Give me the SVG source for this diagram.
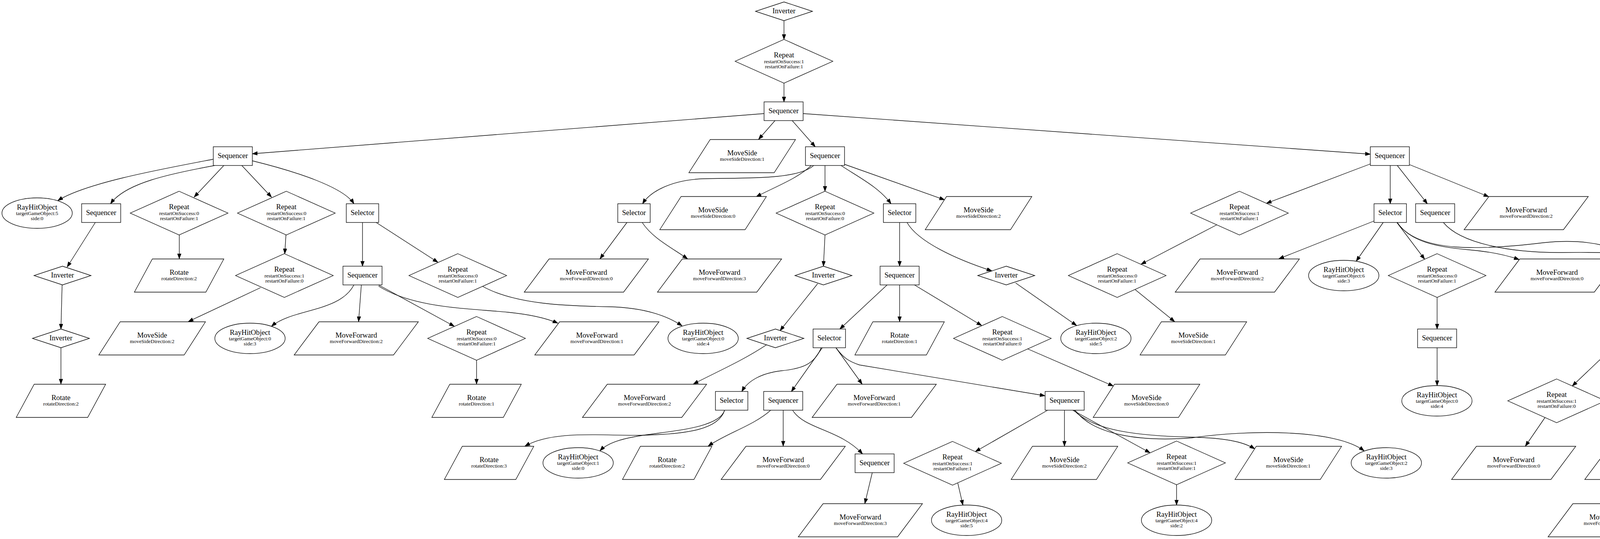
<svg xmlns="http://www.w3.org/2000/svg" width="6037" height="1381" viewBox="0 0 6037 1381">
<style>
.n use{fill:#fff;stroke:#000;stroke-width:1.33}
text{font-family:"Liberation Serif","Times New Roman",serif;text-anchor:middle;fill:#000}
.t{font-size:18.67px}
.s{font-size:13.33px}
.e path{fill:none;stroke:#000;stroke-width:1.33;marker-end:url(#a)}
</style>
<defs>
<marker id="a" markerWidth="14" markerHeight="10" refX="13" refY="4.7" orient="auto" markerUnits="userSpaceOnUse"><path d="M0,0 L13,4.7 L0,9.4 z" fill="#000" stroke="#000" stroke-width="1"/></marker>
<rect id="seq" x="-50" y="-24" width="100" height="48"/>
<rect id="sel" x="-41.5" y="-24" width="83" height="48"/>
<polygon id="rep" points="0,-56 125,0 0,56 -125,0"/>
<polygon id="inv" points="0,-24 73,0 0,24 -73,0"/>
<ellipse id="ray" cx="0" cy="0" rx="90" ry="39"/>
<polygon id="rot" points="-68.5,-42.5 114.5,-42.5 68.5,42.5 -114.5,42.5"/>
<polygon id="ms" points="-81.9,-42.5 136.5,-42.5 81.9,42.5 -136.5,42.5"/>
<polygon id="mf" points="-95.4,-42.5 159,-42.5 95.4,42.5 -159,42.5"/>
</defs>
<rect width="6037" height="1381" fill="#fff"/>
<g class="e" id="edges">
<path d="M2007,53 L2007,101"/>
<path d="M2007,213 L2007,261"/>
<path d="M1956,291 L646,394"/>
<path d="M1984,309 L1942,357"/>
<path d="M2028,309 L2087,376"/>
<path d="M2056,291 L3508,395"/>
<path d="M546,408 C420,432 220,468 148,514"/>
<path d="M550,424 C430,446 320,470 283,522"/>
<path d="M573,424 L497,505"/>
<path d="M619,424 L695,505"/>
<path d="M646,412 C760,440 880,480 906,522"/>
<path d="M244,570 L172,684"/>
<path d="M159,730 L156,843"/>
<path d="M156,891 L156,984"/>
<path d="M459,602 L459,663"/>
<path d="M732,602 L729,650"/>
<path d="M667,737 L482,824"/>
<path d="M928,570 L928,682"/>
<path d="M963,570 L1121,672"/>
<path d="M906,730 C870,800 750,790 695,836"/>
<path d="M925,730 L918,824"/>
<path d="M969,730 L1163,836"/>
<path d="M969,733 C1060,790 1200,790 1300,800 C1370,807 1405,818 1428,828"/>
<path d="M1220,923 L1220,984"/>
<path d="M1236,734 C1320,780 1450,784 1560,786 C1650,788 1710,810 1746,835"/>
<path d="M2083,424 C2040,462 1900,455 1800,458 C1720,461 1665,490 1645,522"/>
<path d="M2077,424 C2040,458 1990,476 1936,504"/>
<path d="M2112,424 L2112,490"/>
<path d="M2153,424 C2200,455 2250,480 2281,522"/>
<path d="M2162,421 L2418,512"/>
<path d="M1605,570 L1536,663"/>
<path d="M1644,570 C1670,610 1720,635 1760,663"/>
<path d="M2112,602 L2108,682"/>
<path d="M2093,727 L1997,847"/>
<path d="M1963,883 C1900,925 1830,955 1775,984"/>
<path d="M2303,570 L2303,682"/>
<path d="M2322,570 C2350,620 2450,665 2539,694"/>
<path d="M2600,725 L2756,834"/>
<path d="M2271,730 L2150,843"/>
<path d="M2303,730 L2303,824"/>
<path d="M2341,730 L2513,834"/>
<path d="M2631,894 L2850,989"/>
<path d="M2102,891 C2085,935 2050,945 2000,950 C1950,956 1915,975 1899,1003"/>
<path d="M2105,891 L2026,1003"/>
<path d="M2140,891 L2207,984"/>
<path d="M2140,891 C2158,915 2170,925 2200,935 L2675,1014"/>
<path d="M1855,1051 C1840,1100 1760,1112 1650,1115 C1550,1118 1420,1100 1344,1143"/>
<path d="M1855,1051 C1840,1100 1700,1105 1630,1118 C1590,1125 1555,1135 1536,1155"/>
<path d="M1973,1051 C1930,1090 1860,1110 1813,1143"/>
<path d="M2005,1051 L2005,1143"/>
<path d="M2029,1051 C2060,1100 2150,1100 2208,1163"/>
<path d="M2233,1211 L2214,1290"/>
<path d="M2682,1051 L2497,1157"/>
<path d="M2725,1051 L2725,1143"/>
<path d="M2746,1051 L2944,1160"/>
<path d="M2749,1051 C2800,1105 2920,1117 3050,1120 C3130,1122 3180,1130 3212,1150"/>
<path d="M2752,1051 C2800,1115 2920,1132 3050,1122 C3200,1100 3420,1100 3492,1155"/>
<path d="M2452,1238 L2465,1294"/>
<path d="M3012,1242 L3012,1294"/>
<path d="M3508,420 L3242,521"/>
<path d="M3559,424 L3559,522"/>
<path d="M3577,424 L3654,522"/>
<path d="M3609,422 L3811,504"/>
<path d="M3115,576 L2921,677"/>
<path d="M2906,742 L3007,824"/>
<path d="M3518,566 L3274,663"/>
<path d="M3541,570 L3472,669"/>
<path d="M3576,570 L3647,664"/>
<path d="M3577,570 C3610,620 3680,633 3760,640 C3820,645 3860,655 3889,665"/>
<path d="M3577,570 C3630,650 3800,640 3950,622 C4060,610 4160,630 4198,682"/>
<path d="M3695,570 C3740,625 3870,648 4000,647 C4150,645 4300,650 4501,694"/>
<path d="M3679,762 L3679,843"/>
<path d="M3679,891 L3679,988"/>
<path d="M4209,730 L4165,843"/>
<path d="M4128,891 L4025,989"/>
<path d="M3955,1070 L3905,1143"/>
<path d="M4501,730 C4450,770 4370,800 4336,843"/>
<path d="M4543,730 L4543,824"/>
<path d="M4584,730 L4791,838"/>
<path d="M4584,716 C4750,745 4950,790 5044,829"/>
<path d="M4309,891 L4309,1003"/>
<path d="M4896,902 L5030,1003"/>
<path d="M4295,1051 L4242,1143"/>
<path d="M4348,1051 L4488,1143"/>
<path d="M5034,1051 L4915,1152"/>
<path d="M5065,1051 L5065,1163"/>
<path d="M5107,1051 L5307,1163"/>
<path d="M5107,1040 L5488,1148"/>
<path d="M4800,1218 C4720,1260 4620,1266 4480,1272 C4380,1276 4320,1282 4283,1291"/>
<path d="M5043,1211 C5010,1255 4900,1268 4780,1278 C4700,1283 4660,1285 4626,1291"/>
<path d="M5043,1211 C5010,1250 4960,1265 4900,1278 C4860,1285 4830,1292 4808,1308"/>
<path d="M5040,1211 L4978,1297"/>
<path d="M5086,1211 L5149,1290"/>
<path d="M5116,1207 L5370,1309"/>
<path d="M5376,1211 C5400,1250 5500,1270 5575,1307"/>
<path d="M5376,1211 C5420,1275 5560,1276 5660,1278 C5720,1280 5770,1290 5806,1300"/>
</g>
<g class="n">
<g id="n1"><use href="#inv" x="2007" y="29"/><text class="t" x="2007" y="34">Inverter</text></g>
<g id="n2"><use href="#rep" x="2007" y="157"/><text class="t" x="2007" y="147">Repeat</text><text class="s" x="2007" y="162">restartOnSuccess:1</text><text class="s" x="2007" y="175">restartOnFailure:1</text></g>
<g id="n3"><use href="#seq" x="2006" y="285"/><text class="t" x="2006" y="290">Sequencer</text></g>
<g id="n4"><use href="#seq" x="596" y="400"/><text class="t" x="596" y="405">Sequencer</text></g>
<g id="n5"><use href="#ms" x="1900" y="400"/><text class="t" x="1900" y="398">MoveSide</text><text class="s" x="1900" y="412">moveSideDirection:1</text></g>
<g id="n6"><use href="#seq" x="2112" y="400"/><text class="t" x="2112" y="405">Sequencer</text></g>
<g id="n7"><use href="#seq" x="3558" y="400"/><text class="t" x="3558" y="405">Sequencer</text></g>
<g id="n8"><use href="#ray" x="95" y="546"/><text class="t" x="95" y="537">RayHitObject</text><text class="s" x="95" y="551">targetGameObject:5</text><text class="s" x="95" y="564">side:0</text></g>
<g id="n9"><use href="#seq" x="259" y="546"/><text class="t" x="259" y="551">Sequencer</text></g>
<g id="n10"><use href="#rep" x="458.5" y="546"/><text class="t" x="458.5" y="536">Repeat</text><text class="s" x="458.5" y="551">restartOnSuccess:0</text><text class="s" x="458.5" y="564">restartOnFailure:1</text></g>
<g id="n11"><use href="#rep" x="733" y="546"/><text class="t" x="733" y="536">Repeat</text><text class="s" x="733" y="551">restartOnSuccess:0</text><text class="s" x="733" y="564">restartOnFailure:1</text></g>
<g id="n12"><use href="#sel" x="928" y="546"/><text class="t" x="928" y="551">Selector</text></g>
<g id="n13"><use href="#sel" x="1623" y="546"/><text class="t" x="1623" y="551">Selector</text></g>
<g id="n14"><use href="#ms" x="1825.5" y="546"/><text class="t" x="1825.5" y="544">MoveSide</text><text class="s" x="1825.5" y="558">moveSideDirection:0</text></g>
<g id="n15"><use href="#rep" x="2112" y="546"/><text class="t" x="2112" y="536">Repeat</text><text class="s" x="2112" y="551">restartOnSuccess:0</text><text class="s" x="2112" y="564">restartOnFailure:0</text></g>
<g id="n16"><use href="#sel" x="2303" y="546"/><text class="t" x="2303" y="551">Selector</text></g>
<g id="n17"><use href="#ms" x="2505" y="546"/><text class="t" x="2505" y="544">MoveSide</text><text class="s" x="2505" y="558">moveSideDirection:2</text></g>
<g id="n18"><use href="#rep" x="3173" y="546"/><text class="t" x="3173" y="536">Repeat</text><text class="s" x="3173" y="551">restartOnSuccess:1</text><text class="s" x="3173" y="564">restartOnFailure:1</text></g>
<g id="n19"><use href="#sel" x="3559" y="546"/><text class="t" x="3559" y="551">Selector</text></g>
<g id="n20"><use href="#seq" x="3674" y="546"/><text class="t" x="3674" y="551">Sequencer</text></g>
<g id="n21"><use href="#mf" x="3907" y="546"/><text class="t" x="3907" y="544">MoveForward</text><text class="s" x="3907" y="558">moveForwardDirection:2</text></g>
<g id="n22"><use href="#inv" x="160" y="706"/><text class="t" x="160" y="711">Inverter</text></g>
<g id="n23"><use href="#rot" x="458.5" y="706"/><text class="t" x="458.5" y="704">Rotate</text><text class="s" x="458.5" y="718">rotateDirection:2</text></g>
<g id="n24"><use href="#rep" x="728" y="706"/><text class="t" x="728" y="696">Repeat</text><text class="s" x="728" y="711">restartOnSuccess:1</text><text class="s" x="728" y="724">restartOnFailure:0</text></g>
<g id="n25"><use href="#seq" x="928" y="706"/><text class="t" x="928" y="711">Sequencer</text></g>
<g id="n26"><use href="#rep" x="1172" y="706"/><text class="t" x="1172" y="696">Repeat</text><text class="s" x="1172" y="711">restartOnSuccess:0</text><text class="s" x="1172" y="724">restartOnFailure:1</text></g>
<g id="n27"><use href="#mf" x="1501" y="706"/><text class="t" x="1501" y="704">MoveForward</text><text class="s" x="1501" y="718">moveForwardDirection:0</text></g>
<g id="n28"><use href="#mf" x="1842" y="706"/><text class="t" x="1842" y="704">MoveForward</text><text class="s" x="1842" y="718">moveForwardDirection:3</text></g>
<g id="n29"><use href="#inv" x="2108" y="706"/><text class="t" x="2108" y="711">Inverter</text></g>
<g id="n30"><use href="#seq" x="2303" y="706"/><text class="t" x="2303" y="711">Sequencer</text></g>
<g id="n31"><use href="#inv" x="2576" y="706"/><text class="t" x="2576" y="711">Inverter</text></g>
<g id="n32"><use href="#rep" x="2860" y="706"/><text class="t" x="2860" y="696">Repeat</text><text class="s" x="2860" y="711">restartOnSuccess:0</text><text class="s" x="2860" y="724">restartOnFailure:1</text></g>
<g id="n33"><use href="#mf" x="3167.5" y="706"/><text class="t" x="3167.5" y="704">MoveForward</text><text class="s" x="3167.5" y="718">moveForwardDirection:2</text></g>
<g id="n34"><use href="#ray" x="3440" y="706"/><text class="t" x="3440" y="697">RayHitObject</text><text class="s" x="3440" y="711">targetGameObject:6</text><text class="s" x="3440" y="724">side:3</text></g>
<g id="n35"><use href="#rep" x="3679" y="706"/><text class="t" x="3679" y="696">Repeat</text><text class="s" x="3679" y="711">restartOnSuccess:0</text><text class="s" x="3679" y="724">restartOnFailure:1</text></g>
<g id="n36"><use href="#mf" x="3986" y="706"/><text class="t" x="3986" y="704">MoveForward</text><text class="s" x="3986" y="718">moveForwardDirection:0</text></g>
<g id="n37"><use href="#seq" x="4220" y="706"/><text class="t" x="4220" y="711">Sequencer</text></g>
<g id="n38"><use href="#sel" x="4543" y="706"/><text class="t" x="4543" y="711">Selector</text></g>
<g id="n39"><use href="#inv" x="156" y="867"/><text class="t" x="156" y="872">Inverter</text></g>
<g id="n40"><use href="#ms" x="389.5" y="867"/><text class="t" x="389.5" y="865">MoveSide</text><text class="s" x="389.5" y="879">moveSideDirection:2</text></g>
<g id="n41"><use href="#ray" x="640" y="867"/><text class="t" x="640" y="858">RayHitObject</text><text class="s" x="640" y="872">targetGameObject:0</text><text class="s" x="640" y="885">side:3</text></g>
<g id="n42"><use href="#mf" x="912" y="867"/><text class="t" x="912" y="865">MoveForward</text><text class="s" x="912" y="879">moveForwardDirection:2</text></g>
<g id="n43"><use href="#rep" x="1220" y="867"/><text class="t" x="1220" y="857">Repeat</text><text class="s" x="1220" y="872">restartOnSuccess:0</text><text class="s" x="1220" y="885">restartOnFailure:1</text></g>
<g id="n44"><use href="#mf" x="1528" y="867"/><text class="t" x="1528" y="865">MoveForward</text><text class="s" x="1528" y="879">moveForwardDirection:1</text></g>
<g id="n45"><use href="#ray" x="1800" y="867"/><text class="t" x="1800" y="858">RayHitObject</text><text class="s" x="1800" y="872">targetGameObject:0</text><text class="s" x="1800" y="885">side:4</text></g>
<g id="n46"><use href="#inv" x="1985" y="867"/><text class="t" x="1985" y="872">Inverter</text></g>
<g id="n47"><use href="#sel" x="2123" y="867"/><text class="t" x="2123" y="872">Selector</text></g>
<g id="n48"><use href="#rot" x="2303" y="867"/><text class="t" x="2303" y="865">Rotate</text><text class="s" x="2303" y="879">rotateDirection:1</text></g>
<g id="n49"><use href="#rep" x="2566" y="867"/><text class="t" x="2566" y="857">Repeat</text><text class="s" x="2566" y="872">restartOnSuccess:1</text><text class="s" x="2566" y="885">restartOnFailure:0</text></g>
<g id="n50"><use href="#ray" x="2805.5" y="867"/><text class="t" x="2805.5" y="858">RayHitObject</text><text class="s" x="2805.5" y="872">targetGameObject:2</text><text class="s" x="2805.5" y="885">side:5</text></g>
<g id="n51"><use href="#ms" x="3055" y="867"/><text class="t" x="3055" y="865">MoveSide</text><text class="s" x="3055" y="879">moveSideDirection:1</text></g>
<g id="n52"><use href="#seq" x="3679" y="867"/><text class="t" x="3679" y="872">Sequencer</text></g>
<g id="n53"><use href="#seq" x="4153" y="867"/><text class="t" x="4153" y="872">Sequencer</text></g>
<g id="n54"><use href="#seq" x="4309" y="867"/><text class="t" x="4309" y="872">Sequencer</text></g>
<g id="n55"><use href="#mf" x="4542" y="867"/><text class="t" x="4542" y="865">MoveForward</text><text class="s" x="4542" y="879">moveForwardDirection:3</text></g>
<g id="n56"><use href="#rep" x="4851" y="867"/><text class="t" x="4851" y="857">Repeat</text><text class="s" x="4851" y="872">restartOnSuccess:0</text><text class="s" x="4851" y="885">restartOnFailure:1</text></g>
<g id="n57"><use href="#rot" x="5115" y="867"/><text class="t" x="5115" y="865">Rotate</text><text class="s" x="5115" y="879">rotateDirection:0</text></g>
<g id="n58"><use href="#rot" x="156" y="1027"/><text class="t" x="156" y="1025">Rotate</text><text class="s" x="156" y="1039">rotateDirection:2</text></g>
<g id="n59"><use href="#rot" x="1220" y="1027"/><text class="t" x="1220" y="1025">Rotate</text><text class="s" x="1220" y="1039">rotateDirection:1</text></g>
<g id="n60"><use href="#mf" x="1650" y="1027"/><text class="t" x="1650" y="1025">MoveForward</text><text class="s" x="1650" y="1039">moveForwardDirection:2</text></g>
<g id="n61"><use href="#sel" x="1873" y="1027"/><text class="t" x="1873" y="1032">Selector</text></g>
<g id="n62"><use href="#seq" x="2005" y="1027"/><text class="t" x="2005" y="1032">Sequencer</text></g>
<g id="n63"><use href="#mf" x="2238" y="1027"/><text class="t" x="2238" y="1025">MoveForward</text><text class="s" x="2238" y="1039">moveForwardDirection:1</text></g>
<g id="n64"><use href="#seq" x="2725.5" y="1027"/><text class="t" x="2725.5" y="1032">Sequencer</text></g>
<g id="n65"><use href="#ms" x="2935" y="1027"/><text class="t" x="2935" y="1025">MoveSide</text><text class="s" x="2935" y="1039">moveSideDirection:0</text></g>
<g id="n66"><use href="#ray" x="3678.5" y="1027"/><text class="t" x="3678.5" y="1018">RayHitObject</text><text class="s" x="3678.5" y="1032">targetGameObject:0</text><text class="s" x="3678.5" y="1045">side:4</text></g>
<g id="n67"><use href="#rep" x="3985" y="1027"/><text class="t" x="3985" y="1017">Repeat</text><text class="s" x="3985" y="1032">restartOnSuccess:1</text><text class="s" x="3985" y="1045">restartOnFailure:0</text></g>
<g id="n68"><use href="#sel" x="4309.5" y="1027"/><text class="t" x="4309.5" y="1032">Selector</text></g>
<g id="n69"><use href="#sel" x="5065.5" y="1027"/><text class="t" x="5065.5" y="1032">Selector</text></g>
<g id="n70"><use href="#rot" x="1252" y="1186"/><text class="t" x="1252" y="1184">Rotate</text><text class="s" x="1252" y="1198">rotateDirection:3</text></g>
<g id="n71"><use href="#ray" x="1480" y="1186"/><text class="t" x="1480" y="1177">RayHitObject</text><text class="s" x="1480" y="1191">targetGameObject:1</text><text class="s" x="1480" y="1204">side:0</text></g>
<g id="n72"><use href="#rot" x="1708" y="1186"/><text class="t" x="1708" y="1184">Rotate</text><text class="s" x="1708" y="1198">rotateDirection:2</text></g>
<g id="n73"><use href="#mf" x="2005" y="1186"/><text class="t" x="2005" y="1184">MoveForward</text><text class="s" x="2005" y="1198">moveForwardDirection:0</text></g>
<g id="n74"><use href="#seq" x="2239" y="1187"/><text class="t" x="2239" y="1192">Sequencer</text></g>
<g id="n75"><use href="#rep" x="2438.5" y="1187"/><text class="t" x="2438.5" y="1177">Repeat</text><text class="s" x="2438.5" y="1192">restartOnSuccess:1</text><text class="s" x="2438.5" y="1205">restartOnFailure:1</text></g>
<g id="n76"><use href="#ms" x="2725" y="1186"/><text class="t" x="2725" y="1184">MoveSide</text><text class="s" x="2725" y="1198">moveSideDirection:2</text></g>
<g id="n77"><use href="#rep" x="3012" y="1186"/><text class="t" x="3012" y="1176">Repeat</text><text class="s" x="3012" y="1191">restartOnSuccess:1</text><text class="s" x="3012" y="1204">restartOnFailure:1</text></g>
<g id="n78"><use href="#ms" x="3298" y="1186"/><text class="t" x="3298" y="1184">MoveSide</text><text class="s" x="3298" y="1198">moveSideDirection:1</text></g>
<g id="n79"><use href="#ray" x="3549" y="1186"/><text class="t" x="3549" y="1177">RayHitObject</text><text class="s" x="3549" y="1191">targetGameObject:2</text><text class="s" x="3549" y="1204">side:3</text></g>
<g id="n80"><use href="#mf" x="3875" y="1186"/><text class="t" x="3875" y="1184">MoveForward</text><text class="s" x="3875" y="1198">moveForwardDirection:0</text></g>
<g id="n81"><use href="#mf" x="4216" y="1186"/><text class="t" x="4216" y="1184">MoveForward</text><text class="s" x="4216" y="1198">moveForwardDirection:3</text></g>
<g id="n82"><use href="#mf" x="4557" y="1186"/><text class="t" x="4557" y="1184">MoveForward</text><text class="s" x="4557" y="1198">moveForwardDirection:1</text></g>
<g id="n83"><use href="#rep" x="4866" y="1186"/><text class="t" x="4866" y="1176">Repeat</text><text class="s" x="4866" y="1191">restartOnSuccess:0</text><text class="s" x="4866" y="1204">restartOnFailure:1</text></g>
<g id="n84"><use href="#seq" x="5066" y="1187"/><text class="t" x="5066" y="1192">Sequencer</text></g>
<g id="n85"><use href="#seq" x="5353.5" y="1187"/><text class="t" x="5353.5" y="1192">Sequencer</text></g>
<g id="n86"><use href="#mf" x="5587" y="1186"/><text class="t" x="5587" y="1184">MoveForward</text><text class="s" x="5587" y="1198">moveForwardDirection:3</text></g>
<g id="n87"><use href="#mf" x="2202.5" y="1333"/><text class="t" x="2202.5" y="1331">MoveForward</text><text class="s" x="2202.5" y="1345">moveForwardDirection:3</text></g>
<g id="n88"><use href="#ray" x="2474.5" y="1333"/><text class="t" x="2474.5" y="1324">RayHitObject</text><text class="s" x="2474.5" y="1338">targetGameObject:4</text><text class="s" x="2474.5" y="1351">side:5</text></g>
<g id="n89"><use href="#ray" x="3012" y="1333"/><text class="t" x="3012" y="1324">RayHitObject</text><text class="s" x="3012" y="1338">targetGameObject:4</text><text class="s" x="3012" y="1351">side:2</text></g>
<g id="n90"><use href="#mf" x="4122" y="1333"/><text class="t" x="4122" y="1331">MoveForward</text><text class="s" x="4122" y="1345">moveForwardDirection:0</text></g>
<g id="n91"><use href="#mf" x="4465" y="1333"/><text class="t" x="4465" y="1331">MoveForward</text><text class="s" x="4465" y="1345">moveForwardDirection:2</text></g>
<g id="n92"><use href="#ray" x="4737.5" y="1333"/><text class="t" x="4737.5" y="1324">RayHitObject</text><text class="s" x="4737.5" y="1338">targetGameObject:5</text><text class="s" x="4737.5" y="1351">side:1</text></g>
<g id="n93"><use href="#ray" x="4940" y="1333"/><text class="t" x="4940" y="1324">RayHitObject</text><text class="s" x="4940" y="1338">targetGameObject:6</text><text class="s" x="4940" y="1351">side:0</text></g>
<g id="n94"><use href="#ms" x="5190" y="1333"/><text class="t" x="5190" y="1331">MoveSide</text><text class="s" x="5190" y="1345">moveSideDirection:3</text></g>
<g id="n95"><use href="#ray" x="5441" y="1333"/><text class="t" x="5441" y="1324">RayHitObject</text><text class="s" x="5441" y="1338">targetGameObject:0</text><text class="s" x="5441" y="1351">side:1</text></g>
<g id="n96"><use href="#ray" x="5643.5" y="1333"/><text class="t" x="5643.5" y="1324">RayHitObject</text><text class="s" x="5643.5" y="1338">targetGameObject:4</text><text class="s" x="5643.5" y="1351">side:3</text></g>
<g id="n97"><use href="#ms" x="5894" y="1333"/><text class="t" x="5894" y="1331">MoveSide</text><text class="s" x="5894" y="1345">moveSideDirection:1</text></g>
</g>
</svg>
